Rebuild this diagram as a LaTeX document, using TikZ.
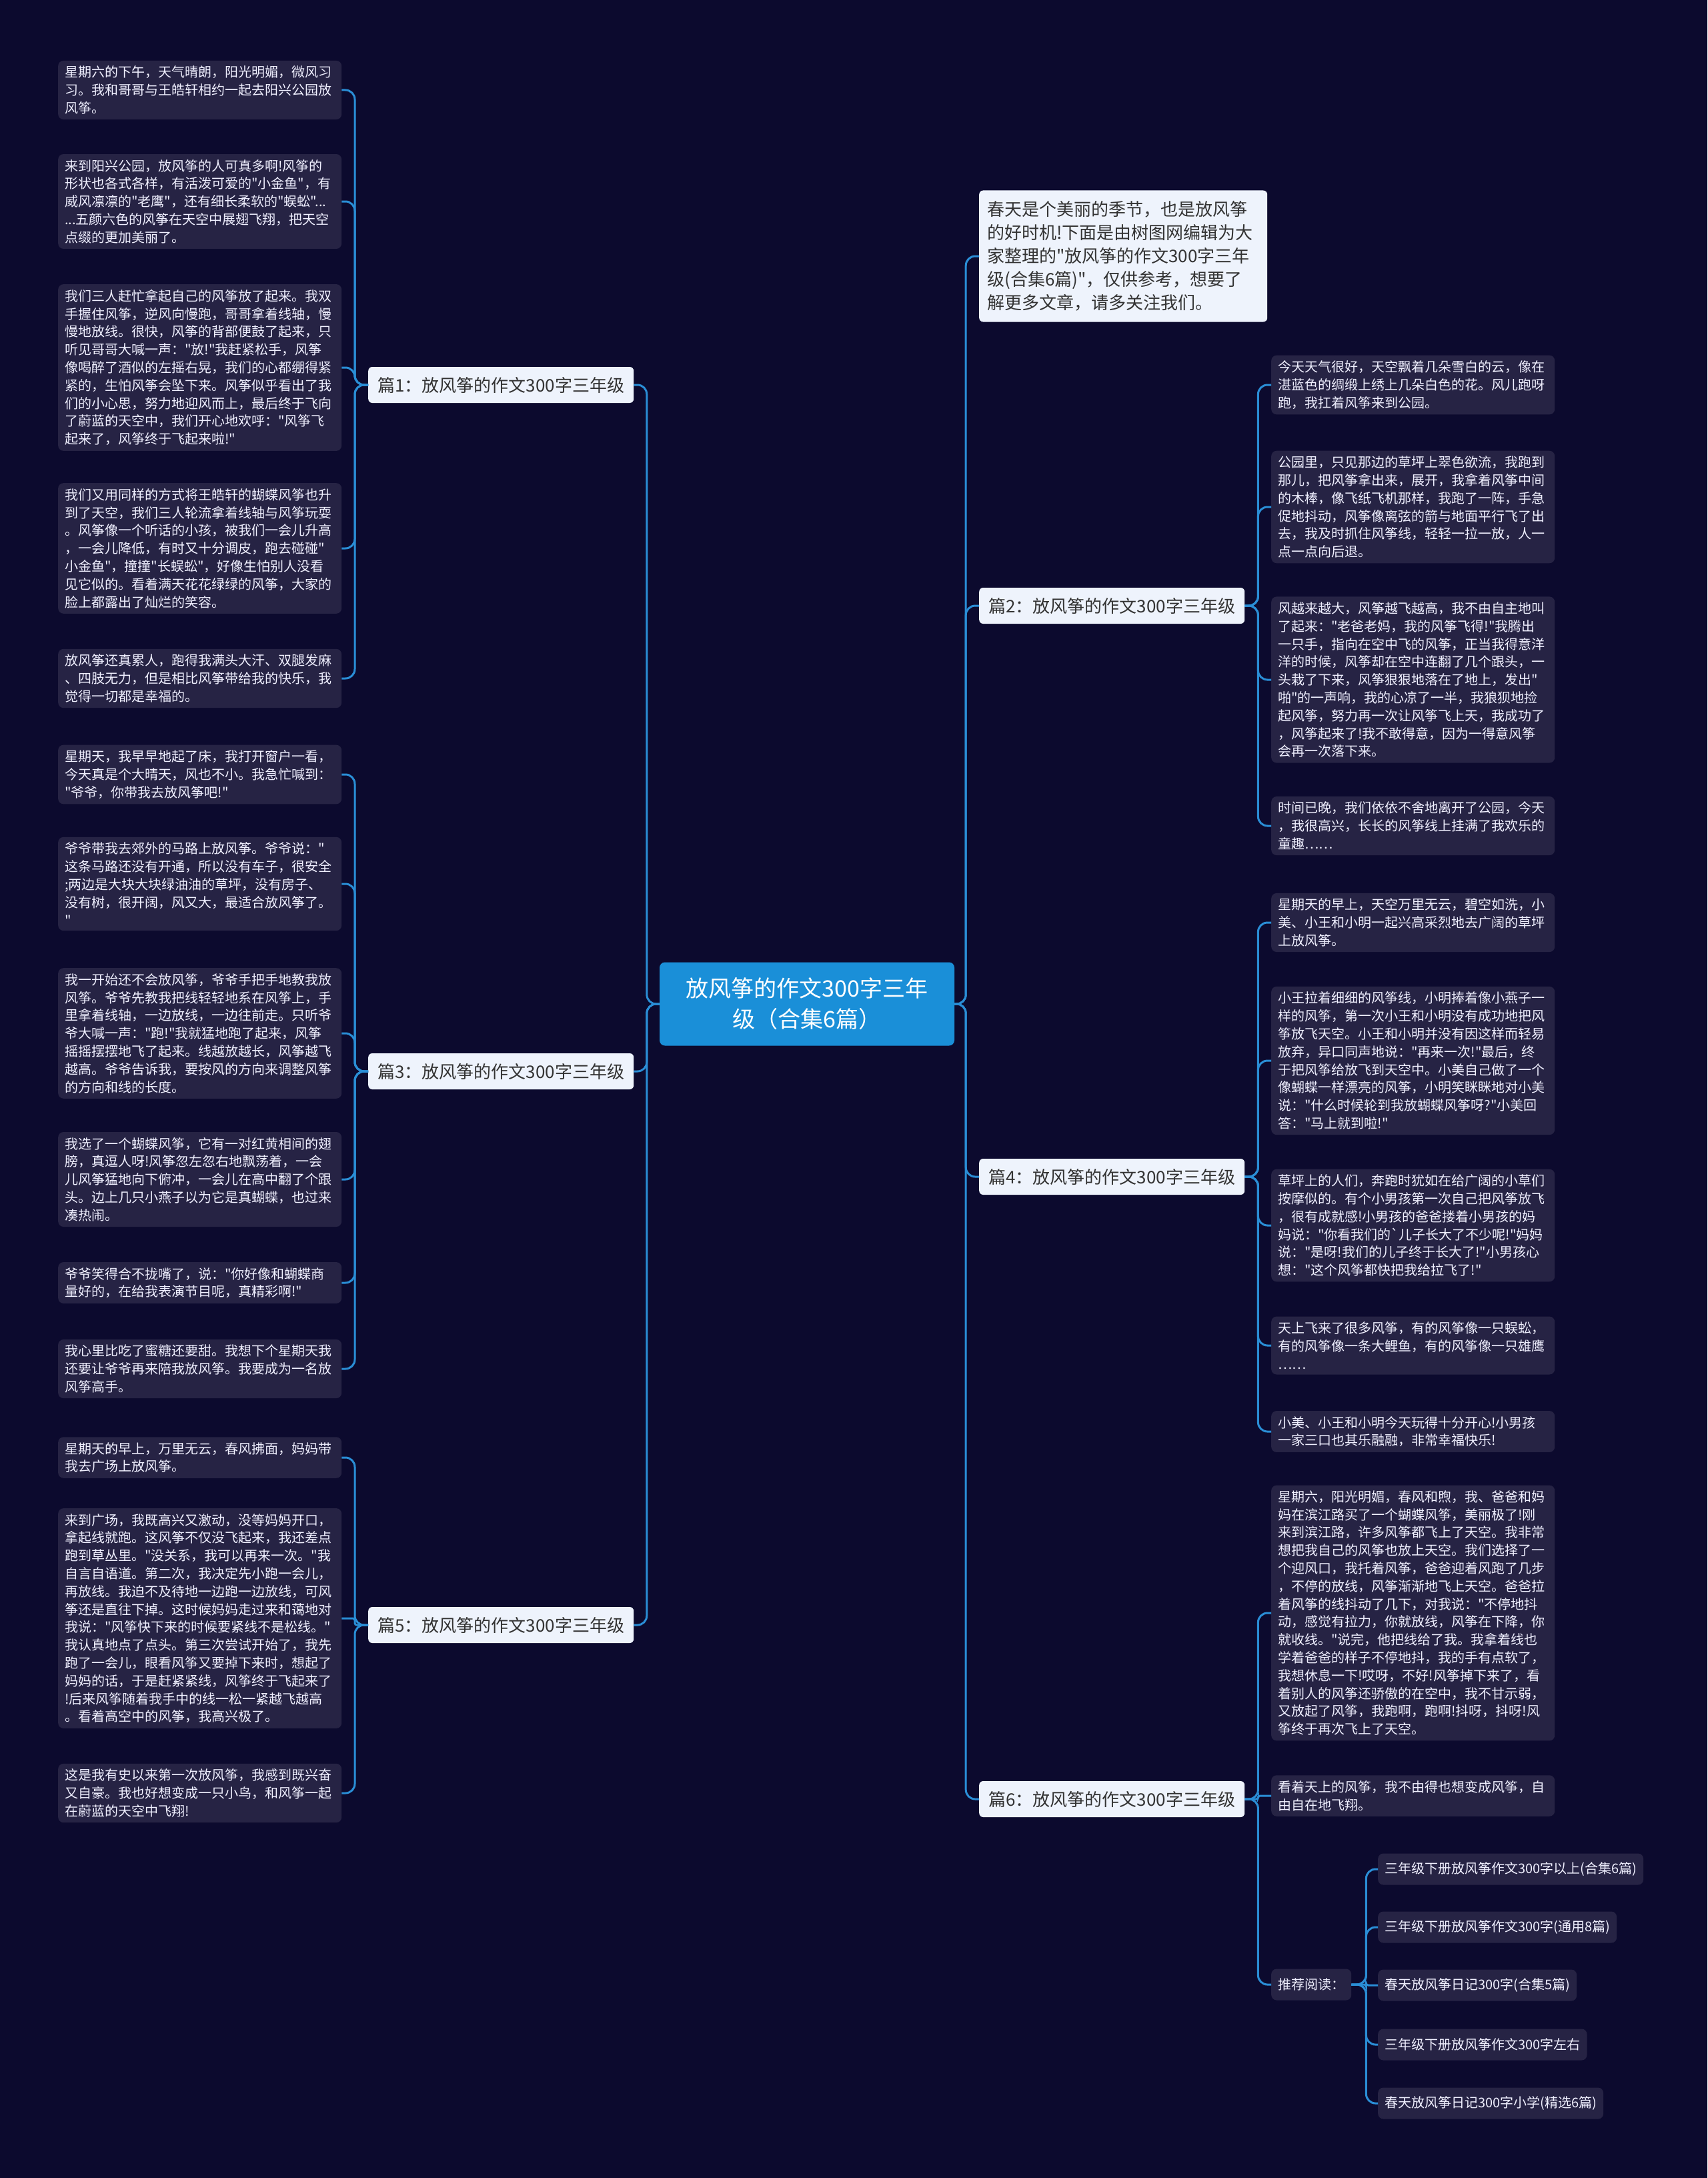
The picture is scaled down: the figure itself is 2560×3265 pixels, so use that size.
\documentclass[tikz,border=0pt]{standalone}
\usepackage{fontspec}
\newfontfamily\cjk{Noto Sans CJK SC}
\definecolor{bg}{HTML}{0C0A2E}
\definecolor{leafc}{HTML}{262344}
\definecolor{branchc}{HTML}{EEF3FC}
\definecolor{darktext}{HTML}{333333}
\definecolor{centerc}{HTML}{1A8FD8}
\definecolor{linec}{HTML}{2A8ED6}
\begin{document}
\begin{tikzpicture}[x=1pt,y=-1pt,
  leaf/.style={rectangle, rounded corners=8pt, fill=leafc, text=white!94!blue,
    font=\cjk\fontsize{20}{26.8}\selectfont, text width=405pt,
    inner xsep=10pt, inner ysep=8pt, align=left},
  subitem/.style={rectangle, rounded corners=8pt, fill=leafc, text=white!94!blue,
    font=\cjk\fontsize{20}{24}\selectfont, inner xsep=10pt, inner ysep=0pt,
    minimum height=47pt},
  branch/.style={rectangle, rounded corners=6pt, fill=branchc, text=darktext,
    font=\cjk\fontsize{26}{30}\selectfont, inner xsep=12pt, inner ysep=0pt,
    minimum height=54pt, minimum width=398pt},
  intro/.style={rectangle, rounded corners=6pt, fill=branchc, text=darktext,
    font=\cjk\fontsize{26}{35}\selectfont, text width=408pt,
    inner xsep=12pt, inner ysep=16pt, align=left},
  centre/.style={rectangle, rounded corners=8pt, fill=centerc, text=white,
    font=\cjk\fontsize{34}{46}\selectfont, minimum width=442pt,
    minimum height=125pt, align=center},
  conn/.style={draw=linec, line width=3pt, rounded corners=14pt},
  connflat/.style={draw=linec, line width=3pt, rounded corners=3pt}
]
\useasboundingbox (0,0) rectangle (2560,3265);
\fill[bg] (0,0) rectangle (2560,3265);

% centre
\node[centre] (C) at (1210,1505) {放风筝的作文300字三年\\级（合集6篇）};

% left branches
\node[branch, anchor=west] (B1) at (552,577) {篇1：放风筝的作文300字三年级};
\node[branch, anchor=west] (B3) at (552,1606) {篇3：放风筝的作文300字三年级};
\node[branch, anchor=west] (B5) at (552,2436) {篇5：放风筝的作文300字三年级};

% right branches
\node[intro, anchor=west] (I) at (1468,384) {春天是个美丽的季节，也是放风筝\\的好时机!下面是由树图网编辑为大\\家整理的"放风筝的作文300字三年\\级(合集6篇)"，仅供参考，想要了\\解更多文章，请多关注我们。};
\node[branch, anchor=west] (B2) at (1468,908) {篇2：放风筝的作文300字三年级};
\node[branch, anchor=west] (B4) at (1468,1764) {篇4：放风筝的作文300字三年级};
\node[branch, anchor=west] (B6) at (1468,2697) {篇6：放风筝的作文300字三年级};

% leaves of 篇1
\node[leaf, anchor=west] (L1a) at (87,135) {星期六的下午，天气晴朗，阳光明媚，微风习\\习。我和哥哥与王皓轩相约一起去阳兴公园放\\风筝。};
\node[leaf, anchor=west] (L1b) at (87,302) {来到阳兴公园，放风筝的人可真多啊!风筝的\\形状也各式各样，有活泼可爱的"小金鱼"，有\\威风凛凛的"老鹰"，还有细长柔软的"蜈蚣"...\\...五颜六色的风筝在天空中展翅飞翔，把天空\\点缀的更加美丽了。};
\node[leaf, anchor=west] (L1c) at (87,551) {我们三人赶忙拿起自己的风筝放了起来。我双\\手握住风筝，逆风向慢跑，哥哥拿着线轴，慢\\慢地放线。很快，风筝的背部便鼓了起来，只\\听见哥哥大喊一声："放!"我赶紧松手，风筝\\像喝醉了酒似的左摇右晃，我们的心都绷得紧\\紧的，生怕风筝会坠下来。风筝似乎看出了我\\们的小心思，努力地迎风而上，最后终于飞向\\了蔚蓝的天空中，我们开心地欢呼："风筝飞\\起来了，风筝终于飞起来啦!"};
\node[leaf, anchor=west] (L1d) at (87,822) {我们又用同样的方式将王皓轩的蝴蝶风筝也升\\到了天空，我们三人轮流拿着线轴与风筝玩耍\\。风筝像一个听话的小孩，被我们一会儿升高\\，一会儿降低，有时又十分调皮，跑去碰碰"\\小金鱼"，撞撞"长蜈蚣"，好像生怕别人没看\\见它似的。看着满天花花绿绿的风筝，大家的\\脸上都露出了灿烂的笑容。};
\node[leaf, anchor=west] (L1e) at (87,1017) {放风筝还真累人，跑得我满头大汗、双腿发麻\\、四肢无力，但是相比风筝带给我的快乐，我\\觉得一切都是幸福的。};

% leaves of 篇3
\node[leaf, anchor=west] (L3a) at (87,1161) {星期天，我早早地起了床，我打开窗户一看，\\今天真是个大晴天，风也不小。我急忙喊到：\\"爷爷，你带我去放风筝吧!"};
\node[leaf, anchor=west] (L3b) at (87,1325) {爷爷带我去郊外的马路上放风筝。爷爷说："\\这条马路还没有开通，所以没有车子，很安全\\;两边是大块大块绿油油的草坪，没有房子、\\没有树，很开阔，风又大，最适合放风筝了。\\"};
\node[leaf, anchor=west] (L3c) at (87,1549) {我一开始还不会放风筝，爷爷手把手地教我放\\风筝。爷爷先教我把线轻轻地系在风筝上，手\\里拿着线轴，一边放线，一边往前走。只听爷\\爷大喊一声："跑!"我就猛地跑了起来，风筝\\摇摇摆摆地飞了起来。线越放越长，风筝越飞\\越高。爷爷告诉我，要按风的方向来调整风筝\\的方向和线的长度。};
\node[leaf, anchor=west] (L3d) at (87,1768) {我选了一个蝴蝶风筝，它有一对红黄相间的翅\\膀，真逗人呀!风筝忽左忽右地飘荡着，一会\\儿风筝猛地向下俯冲，一会儿在高中翻了个跟\\头。边上几只小燕子以为它是真蝴蝶，也过来\\凑热闹。};
\node[leaf, anchor=west] (L3e) at (87,1923) {爷爷笑得合不拢嘴了，说："你好像和蝴蝶商\\量好的，在给我表演节目呢，真精彩啊!"};
\node[leaf, anchor=west] (L3f) at (87,2052) {我心里比吃了蜜糖还要甜。我想下个星期天我\\还要让爷爷再来陪我放风筝。我要成为一名放\\风筝高手。};

% leaves of 篇5
\node[leaf, anchor=west] (L5a) at (87,2185) {星期天的早上，万里无云，春风拂面，妈妈带\\我去广场上放风筝。};
\node[leaf, anchor=west] (L5b) at (87,2426) {来到广场，我既高兴又激动，没等妈妈开口，\\拿起线就跑。这风筝不仅没飞起来，我还差点\\跑到草丛里。"没关系，我可以再来一次。"我\\自言自语道。第二次，我决定先小跑一会儿，\\再放线。我迫不及待地一边跑一边放线，可风\\筝还是直往下掉。这时候妈妈走过来和蔼地对\\我说："风筝快下来的时候要紧线不是松线。"\\我认真地点了点头。第三次尝试开始了，我先\\跑了一会儿，眼看风筝又要掉下来时，想起了\\妈妈的话，于是赶紧紧线，风筝终于飞起来了\\!后来风筝随着我手中的线一松一紧越飞越高\\。看着高空中的风筝，我高兴极了。};
\node[leaf, anchor=west] (L5c) at (87,2688) {这是我有史以来第一次放风筝，我感到既兴奋\\又自豪。我也好想变成一只小鸟，和风筝一起\\在蔚蓝的天空中飞翔!};

% leaves of 篇2
\node[leaf, anchor=west] (R2a) at (1906,577) {今天天气很好，天空飘着几朵雪白的云，像在\\湛蓝色的绸缎上绣上几朵白色的花。风儿跑呀\\跑，我扛着风筝来到公园。};
\node[leaf, anchor=west] (R2b) at (1906,760) {公园里，只见那边的草坪上翠色欲流，我跑到\\那儿，把风筝拿出来，展开，我拿着风筝中间\\的木棒，像飞纸飞机那样，我跑了一阵，手急\\促地抖动，风筝像离弦的箭与地面平行飞了出\\去，我及时抓住风筝线，轻轻一拉一放，人一\\点一点向后退。};
\node[leaf, anchor=west] (R2c) at (1906,1019) {风越来越大，风筝越飞越高，我不由自主地叫\\了起来："老爸老妈，我的风筝飞得!"我腾出\\一只手，指向在空中飞的风筝，正当我得意洋\\洋的时候，风筝却在空中连翻了几个跟头，一\\头栽了下来，风筝狠狠地落在了地上，发出"\\啪"的一声响，我的心凉了一半，我狼狈地捡\\起风筝，努力再一次让风筝飞上天，我成功了\\，风筝起来了!我不敢得意，因为一得意风筝\\会再一次落下来。};
\node[leaf, anchor=west] (R2d) at (1906,1238) {时间已晚，我们依依不舍地离开了公园，今天\\，我很高兴，长长的风筝线上挂满了我欢乐的\\童趣……};

% leaves of 篇4
\node[leaf, anchor=west] (R4a) at (1906,1383) {星期天的早上，天空万里无云，碧空如洗，小\\美、小王和小明一起兴高采烈地去广阔的草坪\\上放风筝。};
\node[leaf, anchor=west] (R4b) at (1906,1590) {小王拉着细细的风筝线，小明捧着像小燕子一\\样的风筝，第一次小王和小明没有成功地把风\\筝放飞天空。小王和小明并没有因这样而轻易\\放弃，异口同声地说："再来一次!"最后，终\\于把风筝给放飞到天空中。小美自己做了一个\\像蝴蝶一样漂亮的风筝，小明笑眯眯地对小美\\说："什么时候轮到我放蝴蝶风筝呀?"小美回\\答："马上就到啦!"};
\node[leaf, anchor=west] (R4c) at (1906,1837) {草坪上的人们，奔跑时犹如在给广阔的小草们\\按摩似的。有个小男孩第一次自己把风筝放飞\\，很有成就感!小男孩的爸爸搂着小男孩的妈\\妈说："你看我们的`儿子长大了不少呢!"妈妈\\说："是呀!我们的儿子终于长大了!"小男孩心\\想："这个风筝都快把我给拉飞了!"};
\node[leaf, anchor=west] (R4d) at (1906,2017) {天上飞来了很多风筝，有的风筝像一只蜈蚣，\\有的风筝像一条大鲤鱼，有的风筝像一只雄鹰\\……};
\node[leaf, anchor=west] (R4e) at (1906,2146) {小美、小王和小明今天玩得十分开心!小男孩\\一家三口也其乐融融，非常幸福快乐!};

% leaves of 篇6
\node[leaf, anchor=west] (R6a) at (1906,2418) {星期六，阳光明媚，春风和煦，我、爸爸和妈\\妈在滨江路买了一个蝴蝶风筝，美丽极了!刚\\来到滨江路，许多风筝都飞上了天空。我非常\\想把我自己的风筝也放上天空。我们选择了一\\个迎风口，我托着风筝，爸爸迎着风跑了几步\\，不停的放线，风筝渐渐地飞上天空。爸爸拉\\着风筝的线抖动了几下，对我说："不停地抖\\动，感觉有拉力，你就放线，风筝在下降，你\\就收线。"说完，他把线给了我。我拿着线也\\学着爸爸的样子不停地抖，我的手有点软了，\\我想休息一下!哎呀，不好!风筝掉下来了，看\\着别人的风筝还骄傲的在空中，我不甘示弱，\\又放起了风筝，我跑啊，跑啊!抖呀，抖呀!风\\筝终于再次飞上了天空。};
\node[leaf, anchor=west] (R6b) at (1906,2692) {看着天上的风筝，我不由得也想变成风筝，自\\由自在地飞翔。};
\node[subitem, anchor=west] (Rec) at (1906,2975) {推荐阅读：};
\node[subitem, anchor=west] (S1) at (2066,2802) {三年级下册放风筝作文300字以上(合集6篇)};
\node[subitem, anchor=west] (S2) at (2066,2889) {三年级下册放风筝作文300字(通用8篇)};
\node[subitem, anchor=west] (S3) at (2066,2976) {春天放风筝日记300字(合集5篇)};
\node[subitem, anchor=west] (S4) at (2066,3065) {三年级下册放风筝作文300字左右};
\node[subitem, anchor=west] (S5) at (2066,3153) {春天放风筝日记300字小学(精选6篇)};

% connectors: centre to branches
\foreach \b in {B1,B3,B5} \draw[conn] (C.west) -- ++(-19,0) |- (\b.east);
\foreach \b in {I,B2,B4,B6} \draw[conn] (C.east) -- ++(17,0) |- (\b.west);

% branch to leaves (left)
\foreach \l in {L1a,L1b,L1c,L1d,L1e} \draw[conn] (B1.west) -- ++(-20,0) |- (\l.east);
\foreach \l in {L3a,L3b,L3c,L3d,L3e,L3f} \draw[conn] (B3.west) -- ++(-20,0) |- (\l.east);
\foreach \l in {L5a,L5c} \draw[conn] (B5.west) -- ++(-20,0) |- (\l.east);
\draw[connflat] (B5.west) -- ++(-20,0) |- (L5b.east);

% branch to leaves (right)
\foreach \l in {R2a,R2b,R2c,R2d} \draw[conn] (B2.east) -- ++(20,0) |- (\l.west);
\foreach \l in {R4a,R4b,R4c,R4d,R4e} \draw[conn] (B4.east) -- ++(20,0) |- (\l.west);
\foreach \l in {R6a,Rec} \draw[conn] (B6.east) -- ++(20,0) |- (\l.west);
\draw[connflat] (B6.east) -- ++(20,0) |- (R6b.west);

% recommended reading
\foreach \s in {S1,S2,S4,S5} \draw[conn] (Rec.east) -- ++(22,0) |- (\s.west);
\draw[connflat] (Rec.east) -- ++(22,0) |- (S3.west);
\end{tikzpicture}
\end{document}
